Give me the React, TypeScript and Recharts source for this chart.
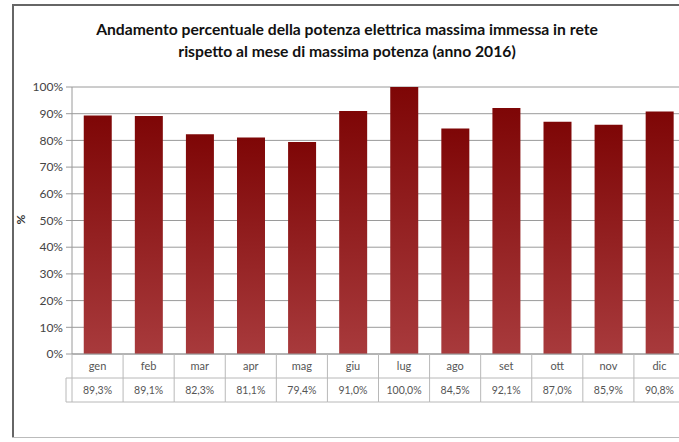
import { BarChart, Bar, XAxis, YAxis, CartesianGrid } from 'recharts'

const months = ['gen', 'feb', 'mar', 'apr', 'mag', 'giu', 'lug', 'ago', 'set', 'ott', 'nov', 'dic']
const percentages = [89.3, 89.1, 82.3, 81.1, 79.4, 91.0, 100.0, 84.5, 92.1, 87.0, 85.9, 90.8]
const yTicks = [0, 10, 20, 30, 40, 50, 60, 70, 80, 90, 100]

const data = months.map((m, i) => ({ month: m, value: percentages[i] }))

const CHART_W = 700
const CHART_H = 442
const PLOT_LEFT = 72
const PLOT_RIGHT = 685
const PLOT_TOP = 87
const PLOT_BOTTOM = 354
const CELL_W = (PLOT_RIGHT - PLOT_LEFT) / months.length
const ROW_H = 24
const FONT = 'Lato, "Open Sans", sans-serif'
const LINE = '#b8b8b8'
const FRAME = '#666'

const fmt = (v: number) => v.toFixed(1).replace('.', ',') + '%'

function TableTick(props: any) {
  const { x, payload } = props
  const i = payload.index
  const left = x - CELL_W / 2
  const right = x + CELL_W / 2
  const y0 = PLOT_BOTTOM
  return (
    <g>
      <line x1={right} y1={y0} x2={right} y2={y0 + ROW_H * 2} stroke={LINE} />
      {i === 0 && (
        <g>
          <line x1={left} y1={y0} x2={left} y2={y0 + ROW_H * 2} stroke={LINE} />
          <line x1={left - 6} y1={y0 + ROW_H} x2={left - 6} y2={y0 + ROW_H * 2} stroke={LINE} />
          <line x1={left - 6} y1={y0 + ROW_H} x2={left} y2={y0 + ROW_H} stroke={LINE} />
          <line x1={left - 6} y1={y0 + ROW_H * 2} x2={left} y2={y0 + ROW_H * 2} stroke={LINE} />
        </g>
      )}
      <line x1={left} y1={y0 + ROW_H} x2={right} y2={y0 + ROW_H} stroke={LINE} />
      <line x1={left} y1={y0 + ROW_H * 2} x2={right} y2={y0 + ROW_H * 2} stroke={LINE} />
      <text x={x} y={y0 + 16} textAnchor="middle" fontSize={11} fill="#555" fontFamily={FONT}>
        {payload.value}
      </text>
      <text x={x} y={y0 + ROW_H + 16} textAnchor="middle" fontSize={10.5} fill="#555" fontFamily={FONT}>
        {fmt(percentages[i])}
      </text>
    </g>
  )
}

export default function App() {
  return (
    <div style={{ position: 'absolute', left: 0, top: 0, width: 679, height: 442, overflow: 'hidden', background: '#fff' }}>
      <div style={{ position: 'absolute', left: 12, top: 4, width: 667, height: 1.5, background: FRAME }} />
      <div style={{ position: 'absolute', left: 12, top: 4, width: 1.5, height: 434, background: FRAME }} />
      <div style={{ position: 'absolute', left: 12, top: 437, width: 667, height: 1, background: '#bbb' }} />
      <div
        style={{
          position: 'absolute',
          left: 0,
          width: 694,
          top: 18,
          textAlign: 'center',
          fontFamily: FONT,
          fontWeight: 700,
          fontSize: 15.7,
          lineHeight: '22px',
          color: '#111',
        }}
      >
        Andamento percentuale della potenza elettrica massima immessa in rete
        <br />
        rispetto al mese di massima potenza (anno 2016)
      </div>
      <div
        style={{
          position: 'absolute',
          left: 16,
          top: 212,
          fontFamily: FONT,
          fontWeight: 700,
          fontSize: 12,
          color: '#333',
          transform: 'rotate(-90deg)',
        }}
      >
        %
      </div>
      <div style={{ position: 'absolute', left: 0, top: 0, width: 679, height: 442, overflow: 'hidden' }}>
        <BarChart
          width={CHART_W}
          height={CHART_H}
          data={data}
          margin={{ top: PLOT_TOP, right: CHART_W - PLOT_RIGHT, bottom: 0, left: 0 }}
          barCategoryGap="23%"
        >
          <defs>
            <linearGradient id="barFill" x1="0" y1="0" x2="0" y2="1">
              <stop offset="0%" stopColor="#7e0606" />
              <stop offset="100%" stopColor="#a83a3c" />
            </linearGradient>
          </defs>
          <CartesianGrid vertical={false} stroke="#9a9a9a" />
          <YAxis
            width={PLOT_LEFT}
            domain={[0, 100]}
            ticks={yTicks}
            tickFormatter={(v: number) => v + '%'}
            tick={{ fontSize: 12, fill: '#444', fontFamily: FONT }}
            axisLine={{ stroke: '#9a9a9a' }}
            tickLine={{ stroke: '#9a9a9a' }}
            tickSize={6}
            tickMargin={3}
            interval={0}
          />
          <XAxis
            dataKey="month"
            height={CHART_H - PLOT_BOTTOM}
            axisLine={{ stroke: '#9a9a9a' }}
            tickLine={false}
            tickSize={0}
            tick={<TableTick />}
            interval={0}
          />
          <Bar dataKey="value" fill="url(#barFill)" isAnimationActive={false} />
        </BarChart>
      </div>
    </div>
  )
}
